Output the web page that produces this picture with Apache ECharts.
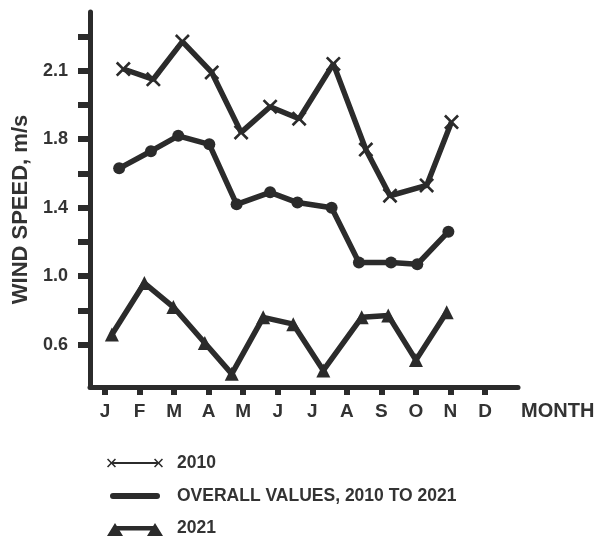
<!DOCTYPE html>
<html>
<head>
<meta charset="utf-8">
<script src="https://cdn.jsdelivr.net/npm/echarts@6/dist/echarts.min.js"></script>
<style>
  html, body { margin: 0; padding: 0; background: #fff; }
  #chart { width: 600px; height: 540px; }
</style>
</head>
<body>
<div id="chart"></div>
<script>
// month letters and their positions on the x axis (0 = January)
var months = ['J', 'F', 'M', 'A', 'M', 'J', 'J', 'A', 'S', 'O', 'N', 'D'];
var monthPos = [0, 1, 2, 3, 4, 5, 6, 7, 8, 9, 10, 11];

// y ticks (every 0.2) and the labelled ones, as printed on the figure
var yTickValues = [0.6, 0.8, 1.0, 1.2, 1.4, 1.6, 1.8, 2.0, 2.2, 2.4];
var yLabelValues = [0.6, 1.0, 1.4, 1.8, 2.2];
var yLabelTexts = ['0.6', '1.0', '1.4', '1.8', '2.1'];

// 2010
var x2010 = [0.53, 1.40, 2.24, 3.09, 3.94, 4.78, 5.62, 6.61, 7.55, 8.25, 9.31, 10.03];
var y2010 = [2.21, 2.15, 2.37, 2.19, 1.84, 1.99, 1.92, 2.24, 1.74, 1.47, 1.53, 1.90];

// overall values, 2010 to 2021
var xOverall = [0.41, 1.33, 2.12, 3.02, 3.81, 4.78, 5.57, 6.56, 7.35, 8.28, 9.04, 9.94];
var yOverall = [1.63, 1.73, 1.82, 1.77, 1.42, 1.49, 1.43, 1.40, 1.08, 1.08, 1.07, 1.26];

// 2021
var x2021 = [0.20, 1.14, 1.98, 2.89, 3.67, 4.58, 5.45, 6.32, 7.43, 8.20, 9.00, 9.89];
var y2021 = [0.66, 0.96, 0.82, 0.61, 0.43, 0.76, 0.72, 0.45, 0.76, 0.77, 0.51, 0.79];

var INK = '#2b2b2b';
var TEXT = '#333';
var FONT = '"Liberation Sans", Arial, sans-serif';

function pairs(xs, ys) {
  return xs.map(function (x, i) { return [x, ys[i]]; });
}

// X shaped polygon centred on cx, cy
function xMark(cx, cy, r, h) {
  var p = [
    [cx - r, cy - r + h], [cx - r + h, cy - r], [cx, cy - h], [cx + r - h, cy - r],
    [cx + r, cy - r + h], [cx + h, cy], [cx + r, cy + r - h], [cx + r - h, cy + r],
    [cx, cy + h], [cx - r + h, cy + r], [cx - r, cy + r - h], [cx - h, cy]
  ];
  return 'M' + p.map(function (q) { return q[0] + ',' + q[1]; }).join('L') + 'Z';
}

// tiny corners so every legend path has the same 56x16 box
var BOX = 'M0,0L0.01,0L0,0.01Z M56,16L55.99,16L56,15.99Z ';
var icon2010 = 'path://' + BOX + 'M4,7.1H52V8.9H4Z ' + xMark(4.5, 8, 4.5, 1.1) + ' ' + xMark(51.5, 8, 4.5, 1.1);
var iconOverall = 'path://' + BOX + 'M6,5H50A3,3 0 0 1 50,11H6A3,3 0 0 1 6,5Z';
var icon2021 = 'path://' + BOX + 'M6,6H50V10.5H6Z M0,16L8,3L16,16Z M40,16L48,3L56,16Z';

var xSymbol = 'path://M2,0L8,6L14,0L16,2L10,8L16,14L14,16L8,10L2,16L0,14L6,8L0,2Z';

// one legend block per row, stacked
function legendRow(name, icon, top) {
  return {
    left: 107,
    top: top,
    padding: 0,
    itemWidth: 56,
    itemHeight: 16,
    selectedMode: false,
    textStyle: {
      fontFamily: FONT, fontWeight: 'bold', fontSize: 17.5,
      color: TEXT, padding: [0, 0, 0, 9]
    },
    data: [{ name: name, icon: icon }]
  };
}

var chart = echarts.init(document.getElementById('chart'));
chart.setOption({
  animation: false,
  backgroundColor: '#fff',
  textStyle: { fontFamily: FONT },
  grid: { left: 90, right: 82, top: 12, bottom: 153, outerBoundsMode: 'none' },
  legend: [
    legendRow('2010', icon2010, 454),
    legendRow('OVERALL VALUES, 2010 TO 2021', iconOverall, 487),
    legendRow('2021', icon2021, 519)
  ],
  xAxis: {
    type: 'value',
    min: -0.434,
    max: 11.955,
    splitLine: { show: false },
    name: 'MONTH',
    nameLocation: 'end',
    nameGap: 3,
    nameTextStyle: {
      fontFamily: FONT, fontWeight: 'bold', fontSize: 20, color: TEXT,
      verticalAlign: 'top', align: 'left', padding: [14, 0, 0, 0]
    },
    axisLine: { show: true, onZero: false, lineStyle: { color: INK, width: 5 } },
    axisTick: { show: true, customValues: monthPos, length: 8, lineStyle: { color: INK, width: 6 } },
    axisLabel: {
      customValues: monthPos,
      margin: 15,
      fontFamily: FONT, fontWeight: 'bold', fontSize: 19, color: TEXT,
      formatter: function (v) { return months[Math.round(v)]; }
    }
  },
  yAxis: {
    type: 'value',
    min: 0.353,
    max: 2.543,
    splitLine: { show: false },
    name: 'WIND SPEED, m/s',
    nameLocation: 'middle',
    nameGap: 55,
    nameTextStyle: {
      fontFamily: FONT, fontWeight: 'bold', fontSize: 22, color: TEXT,
      padding: [0, 20, 0, 0]
    },
    axisLine: { show: true, onZero: false, lineStyle: { color: INK, width: 5 } },
    axisTick: { show: true, customValues: yTickValues, length: 12, lineStyle: { color: INK, width: 6 } },
    axisLabel: {
      customValues: yLabelValues,
      margin: 22,
      fontFamily: FONT, fontWeight: 'bold', fontSize: 18, color: TEXT,
      formatter: function (v) {
        for (var i = 0; i < yLabelValues.length; i++) {
          if (Math.abs(yLabelValues[i] - v) < 1e-6) return yLabelTexts[i];
        }
        return '';
      }
    }
  },
  series: [
    {
      name: '2010',
      type: 'line',
      data: pairs(x2010, y2010),
      symbol: xSymbol,
      symbolSize: 15,
      lineStyle: { color: INK, width: 5.5 },
      itemStyle: { color: INK }
    },
    {
      name: 'OVERALL VALUES, 2010 TO 2021',
      type: 'line',
      data: pairs(xOverall, yOverall),
      symbol: 'circle',
      symbolSize: 12,
      lineStyle: { color: INK, width: 5.5 },
      itemStyle: { color: INK }
    },
    {
      name: '2021',
      type: 'line',
      data: pairs(x2021, y2021),
      symbol: 'triangle',
      symbolSize: 14,
      lineStyle: { color: INK, width: 5.5 },
      itemStyle: { color: INK }
    }
  ]
});
</script>
</body>
</html>
